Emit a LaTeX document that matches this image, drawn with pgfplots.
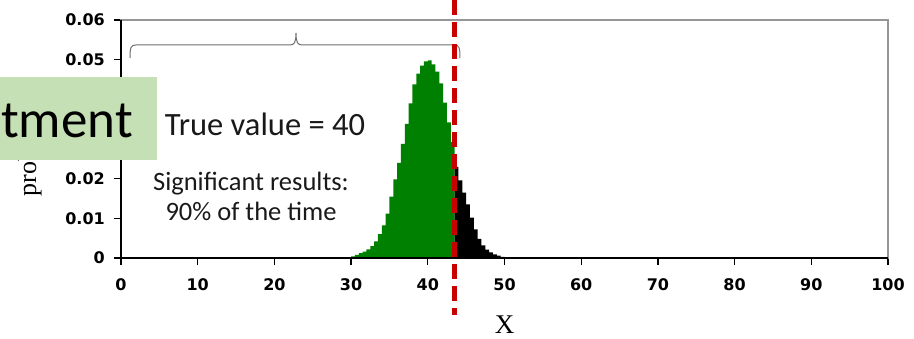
\documentclass[border=0pt]{standalone}
\usepackage{pgfplots}
\pgfplotsset{compat=1.18}
\usepackage{fontspec}
\setmainfont{Liberation Serif}
\newfontfamily\carlito{Carlito}
\newfontfamily\tickfont{DejaVu Sans}
\definecolor{distgreen}{RGB}{0,128,0}
\definecolor{boxgreen}{RGB}{197,224,180}
\definecolor{refred}{RGB}{200,0,0}
\definecolor{framegray}{RGB}{150,150,150}
\definecolor{bracegray}{RGB}{110,110,110}
\begin{document}
\begin{tikzpicture}
\useasboundingbox (-121pt,-80pt) rectangle (793pt,258pt);
\clip (-121pt,-80pt) rectangle (793pt,258pt);
\begin{axis}[
  at={(0pt,0pt)}, anchor=south west,
  scale only axis, width=767pt, height=238pt,
  xmin=0, xmax=100, ymin=0, ymax=0.06,
  xtick={0,10,20,30,40,50,60,70,80,90,100},
  xticklabels={0,10,20,30,40,50,60,70,80,90,100},
  ytick={0,0.01,0.02,0.03,0.04,0.05,0.06},
  yticklabels={0,0.01,0.02,0.03,0.04,0.05,0.06},
  scaled y ticks=false,
  xtick pos=bottom, ytick pos=left,
  tick align=outside,
  major tick length=7pt,
  tick style={black, line width=1.3pt},
  axis line style={draw=framegray, line width=1.3pt},
  ticklabel style={font=\tickfont\bfseries\fontsize{16}{16}\selectfont, inner sep=0pt},
  xticklabel style={yshift=-13pt},
  yticklabel style={xshift=-9pt},
  xlabel={X},
  xlabel style={at={(axis description cs:0.5,0)}, yshift=-67pt, anchor=center, font=\fontsize{27}{27}\selectfont},
  ylabel={probability},
  ylabel style={at={(axis description cs:-0.1186,0.5)}, anchor=center, font=\fontsize{26}{26}\selectfont},
  clip=false,
]
\addplot[draw=none, fill=distgreen, const plot mark left] coordinates {
(30,0.0004) (30.5,0.0008) (31,0.0012) (31.5,0.0016) (32,0.0022) (32.5,0.0030)
(33,0.0042) (33.5,0.0060) (34,0.0082) (34.5,0.0112) (35,0.0155) (35.5,0.0198)
(36,0.0240) (36.5,0.0288) (37,0.0338) (37.5,0.0390) (38,0.0438) (38.5,0.0465)
(39,0.0485) (39.5,0.0496) (40,0.0498) (40.5,0.0488) (41,0.0470) (41.5,0.0440)
(42,0.0392) (42.5,0.0342) (43,0.0292) (43.5,0.0292)
} \closedcycle;
\addplot[draw=none, fill=black, const plot mark left] coordinates {
(43.5,0.0230) (44,0.0196) (44.5,0.0165) (45,0.0135) (45.5,0.0102) (46,0.0072)
(46.5,0.0048) (47,0.0032) (47.5,0.0021) (48,0.0014) (48.5,0.0009) (49,0.0006)
(49.5,0.0003) (50,0.0003)
} \closedcycle;
\end{axis}
% black left and bottom axis lines
\draw[black, line width=1.5pt] (0pt,238pt) -- (0pt,0pt) -- (767pt,0pt);
% brace
\draw[bracegray, line width=1pt] (9pt,200pt) .. controls (9pt,211pt) and (10pt,213pt) .. (15pt,213pt)
  -- (169pt,213pt) .. controls (173pt,213pt) and (175pt,215pt) .. (175pt,225pt)
  .. controls (175pt,215pt) and (177pt,213pt) .. (181pt,213pt)
  -- (333pt,213pt) .. controls (338pt,213pt) and (339pt,211pt) .. (339pt,200pt);
% red dashed line
\draw[refred, line width=5pt, dash pattern=on 15pt off 7pt] (333pt,258pt) -- (333pt,-57pt);
% green box
\fill[boxgreen] (-125pt,98pt) rectangle (36pt,181pt);
\node[anchor=base east, inner sep=0pt, font=\carlito\fontsize{53}{53}\selectfont] at (12pt,121pt) {tment};
\node[anchor=base, inner sep=0pt, text=black!90, font=\carlito\fontsize{32.5}{32.5}\selectfont] at (144pt,123pt) {True value = 40};
\node[anchor=base, inner sep=0pt, text=black!90, font=\carlito\fontsize{26.5}{26.5}\selectfont] at (130pt,68pt) {Significant results:};
\node[anchor=base, inner sep=0pt, text=black!90, font=\carlito\fontsize{26.5}{26.5}\selectfont] at (130pt,38pt) {90\% of the time};
\end{tikzpicture}
\end{document}
